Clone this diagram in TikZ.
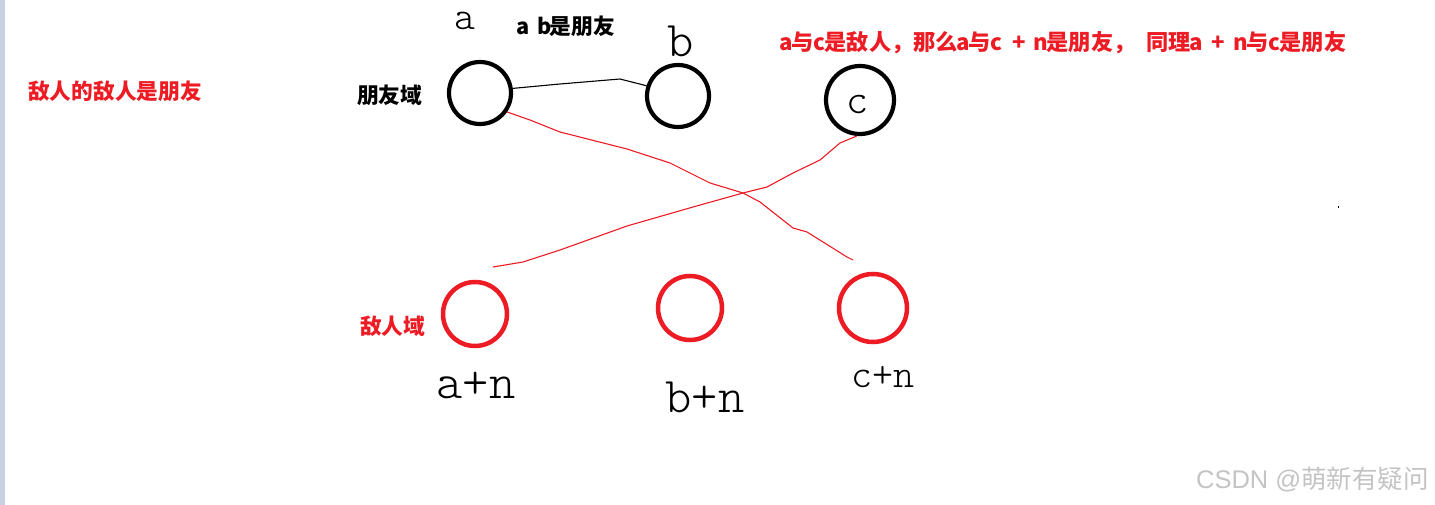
\documentclass[tikz,border=0pt]{standalone}
\usepackage{fontspec}
\newfontfamily\cjk{Noto Sans CJK SC}
\newfontfamily\lsans{Liberation Sans}
\newfontfamily\hand{lmmonolt10-regular.otf}
\newcommand{\hc}[1]{\makebox[0.5em][c]{#1}}
\definecolor{pred}{HTML}{ED1C24}
\definecolor{strip}{HTML}{C9D2E3}
\definecolor{wm}{HTML}{C4C4C4}
\begin{document}
\begin{tikzpicture}[x=1pt,y=-1pt,
  friendc/.style={circle,draw=black,line width=4.2pt,minimum size=62pt,inner sep=0pt},
  enemyc/.style={circle,draw=pred,line width=4.5pt,minimum size=64pt,inner sep=0pt},
  lbl/.style={font=\cjk\bfseries\fontsize{21.7}{24}\selectfont,inner sep=0pt},
  hw/.style={font=\hand,inner sep=0pt,anchor=base},
  link/.style={line width=1.1pt,line join=round},
]
\useasboundingbox (0,0) rectangle (1435,505);
\fill[white] (0,0) rectangle (1435,505);
\fill[strip] (0,0) rectangle (5,505);

% texts
\node[lbl,text=pred,anchor=west] (t1) at (28,91) {敌人的敌人是朋友};
\node[lbl,anchor=west] (t2) at (357,95) {朋友域};
\node[lbl,text=pred,anchor=west] (t3) at (360,326) {敌人域};
\node[lbl,anchor=west] (t4) at (517,26) {\hc{a}\hc{ }\hc{b}是朋友};
\node[lbl,text=pred,anchor=west,font=\cjk\bfseries\fontsize{22.2}{24}\selectfont] (t5) at (780,43) {\hc{a}与\hc{c}是敌人，那么\hc{a}与\hc{c}\hc{ }\hc{+}\hc{ }\hc{n}是朋友，\hc{ }同理\hc{a}\hc{ }\hc{+}\hc{ }\hc{n}与\hc{c}是朋友};

% friend domain
\node[friendc] (a) at (480,93) {};
\node[friendc] (b) at (678,96) {};
\node[friendc,minimum size=68pt] (c) at (860,100) {};

% enemy domain
\node[enemyc] (an) at (475,314) {};
\node[enemyc] (bn) at (690,308) {};
\node[enemyc,minimum size=68pt] (cn) at (873,308) {};

% hand-written labels
\node[hw,font=\hand\fontsize{40}{40}\selectfont] (la) at (465,30) {a};
\node[hw,font=\hand\fontsize{50}{50}\selectfont] (lb) at (681,57) {b};
\node[hw,font=\hand\fontsize{42}{42}\selectfont] (lc) at (858,114) {c};
\node[hw,font=\hand\fontsize{50}{50}\selectfont] (lan) at (476,398) {a+n};
\node[hw,font=\hand\fontsize{50}{50}\selectfont] (lbn) at (705,412) {b+n};
\node[hw,font=\hand\fontsize{40}{40}\selectfont] (lcn) at (883,387) {c+n};

% free ends
\coordinate (e1) at (853,260);
\coordinate (e2) at (493,267);

% connectors
\draw[link,black] (a.8) -- (560,84) -- (620,79) -- (b.162);
\draw[link,pred] (a.-35) -- (530,120) -- (560,132) -- (627,149) -- (670,163) -- (710,183)
  -- (743,193) -- (760,202) -- (793,228) -- (807,232) -- (847,257) -- (e1);
\draw[link,pred] (c.-95) -- (840,143) -- (820,160) -- (793,173) -- (767,187) -- (743,193)
  -- (693,207) -- (627,226) -- (560,250) -- (523,262) -- (e2);

% stray dot
\fill[black] (1337.5,206.5) rectangle (1339,208);

% watermark
\node[font=\fontsize{25.5}{27}\selectfont,text=wm,anchor=east,inner sep=0pt] (w) at (1429,479) {{\lsans CSDN @}{\cjk 萌新有疑问}};
\end{tikzpicture}
\end{document}
